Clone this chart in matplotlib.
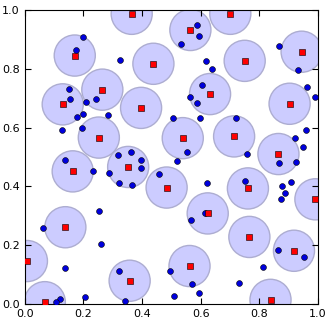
import matplotlib
matplotlib.use("Agg")
import matplotlib.pyplot as plt
from matplotlib.patches import Circle

# centres (red squares)
cx = [0.365, 0.171, 0.439, 0.265, 0.130, 0.397, 0.253, 0.565, 0.701, 0.944,
      0.750, 0.632, 0.903, 0.539, 0.714, 0.865, 0.164, 0.353, 0.484, 0.139,
      0.008, 0.358, 0.069, 0.761, 0.991, 0.624, 0.766, 0.918, 0.562, 0.838]
cy = [0.987, 0.845, 0.817, 0.729, 0.679, 0.667, 0.566, 0.932, 0.987, 0.858,
      0.827, 0.714, 0.681, 0.564, 0.570, 0.510, 0.451, 0.466, 0.396, 0.261,
      0.146, 0.079, 0.006, 0.393, 0.356, 0.308, 0.228, 0.181, 0.129, 0.014]

# data points (blue dots)
px = [0.198, 0.174, 0.324, 0.151, 0.156, 0.208, 0.242, 0.200, 0.180, 0.284,
      0.129, 0.194, 0.586, 0.596, 0.533, 0.866, 0.933, 0.617, 0.640, 0.604,
      0.564, 0.587, 0.963, 0.990, 0.507, 0.599, 0.722, 0.959, 0.922, 0.948,
      0.553, 0.759, 0.139, 0.319, 0.363, 0.396, 0.396, 0.233, 0.286, 0.321,
      0.365, 0.458, 0.253, 0.064, 0.260, 0.138, 0.321, 0.497, 0.206, 0.120,
      0.106, 0.341, 0.519, 0.867, 0.926, 0.623, 0.750, 0.878, 0.909, 0.888,
      0.874, 0.616, 0.567, 0.862, 0.951, 0.811, 0.569, 0.732, 0.510, 0.596]
py = [0.909, 0.865, 0.830, 0.731, 0.697, 0.688, 0.697, 0.645, 0.636, 0.644,
      0.592, 0.598, 0.948, 0.912, 0.883, 0.879, 0.797, 0.826, 0.798, 0.744,
      0.704, 0.685, 0.739, 0.703, 0.632, 0.634, 0.632, 0.593, 0.565, 0.533,
      0.517, 0.511, 0.489, 0.507, 0.518, 0.491, 0.462, 0.451, 0.446, 0.412,
      0.403, 0.442, 0.316, 0.260, 0.205, 0.122, 0.112, 0.111, 0.023, 0.018,
      0.006, 0.010, 0.488, 0.478, 0.483, 0.412, 0.417, 0.400, 0.414, 0.379,
      0.358, 0.308, 0.287, 0.183, 0.159, 0.126, 0.068, 0.071, 0.026, 0.038]

radius = 0.07

fig = plt.figure(figsize=(3.32, 3.22), dpi=100)
ax = fig.add_axes([0.074, 0.056, 0.884, 0.913])

for x, y in zip(cx, cy):
    ax.add_patch(Circle((x, y), radius, facecolor=(0.8, 0.8, 1.0),
                        edgecolor=(0.68, 0.68, 0.82), linewidth=1, zorder=1))

ax.plot(px, py, 'o', color='#0000dd', markeredgecolor='k',
        markeredgewidth=0.4, markersize=4.2, zorder=3)
ax.plot(cx, cy, 's', color='red', markeredgecolor='k',
        markeredgewidth=0.4, markersize=4, zorder=4)

ax.set_xlim(0, 1)
ax.set_ylim(0, 1)
ax.set_xticks([0.0, 0.2, 0.4, 0.6, 0.8, 1.0])
ax.set_yticks([0.0, 0.2, 0.4, 0.6, 0.8, 1.0])
ax.tick_params(direction='in', top=True, right=True, labelsize=8, length=4)

fig.savefig("out.png", dpi=100)
